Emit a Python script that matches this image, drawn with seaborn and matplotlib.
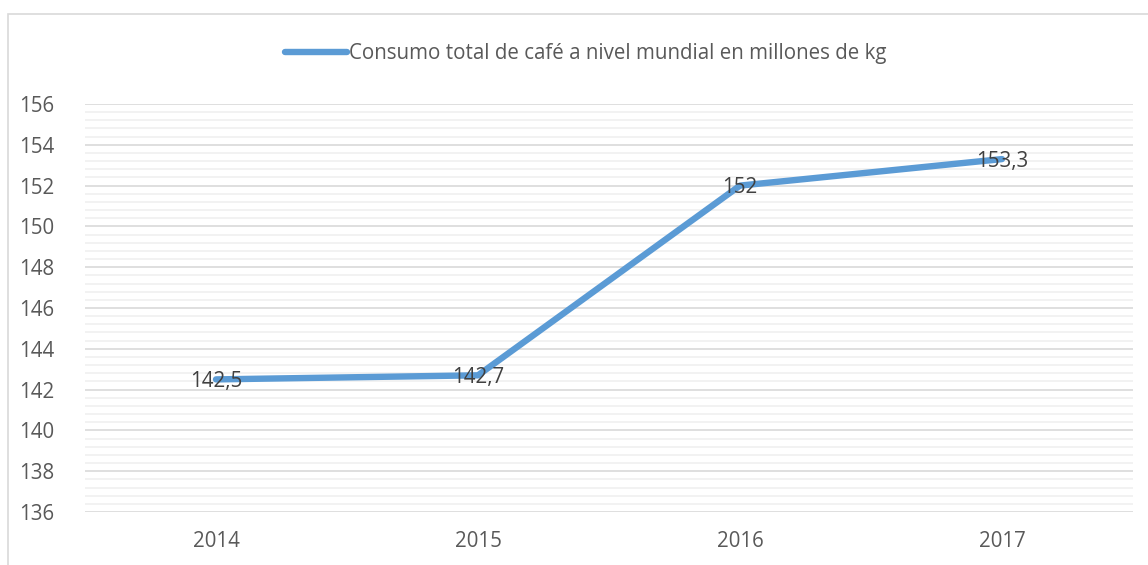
import matplotlib.pyplot as plt
import seaborn as sns
from matplotlib.patches import Rectangle

years = ["2014", "2015", "2016", "2017"]
consumo = [142.5, 142.7, 152.0, 153.3]
labels = ["142,5", "142,7", "152", "153,3"]
series_name = "Consumo total de café a nivel mundial en millones de kg"

W, H = 1148, 565
sns.set_style("white")
plt.rcParams["font.family"] = ["Open Sans", "DejaVu Sans"]
FS = 14.8

fig = plt.figure(figsize=(W / 100, H / 100), dpi=100)
ax = fig.add_axes([85 / W, 53 / H, (1133 - 85) / W, (512 - 104) / H])

# chart frame (cut off at right/bottom like the source)
fig.patches.append(Rectangle((8 / W, -0.1), 1.2, (565 - 14) / H + 0.1,
                             transform=fig.transFigure, fill=False,
                             edgecolor="#d9d9d9", linewidth=1.2))

x = list(range(len(years)))
sns.lineplot(x=x, y=consumo, ax=ax, color="#5B9BD5", linewidth=4.6,
             solid_capstyle="round", label=series_name, legend=False, zorder=3)

for xi, yi, lab in zip(x, consumo, labels):
    ax.text(xi, yi - 0.1, lab, ha="center", va="center", fontsize=FS,
            color="#404040", zorder=4)

ax.set_xlim(-0.5, len(years) - 0.5)
ax.set_ylim(136, 156)
ax.set_yticks(range(136, 157, 2))
ax.set_yticks([136 + 0.4 * i for i in range(51)], minor=True)
ax.set_xticks(x)
ax.set_xticklabels(years)
ax.grid(axis="y", which="major", color="#d9d9d9", linewidth=1.2, zorder=0)
ax.grid(axis="y", which="minor", color="#f0f0f0", linewidth=1.2, zorder=0)
ax.tick_params(axis="both", which="both", length=0, labelsize=FS,
               colors="#595959")
ax.tick_params(axis="y", pad=22)
ax.tick_params(axis="x", pad=14)
for s in ax.spines.values():
    s.set_visible(False)

handles, lbls = ax.get_legend_handles_labels()
fig.legend(handles, lbls, loc="center", bbox_to_anchor=(586 / W, 1 - 54 / H),
           frameon=False, fontsize=FS, labelcolor="#595959",
           handlelength=3.0, handletextpad=0.1)

fig.savefig("out.png", dpi=100)
plt.close(fig)
